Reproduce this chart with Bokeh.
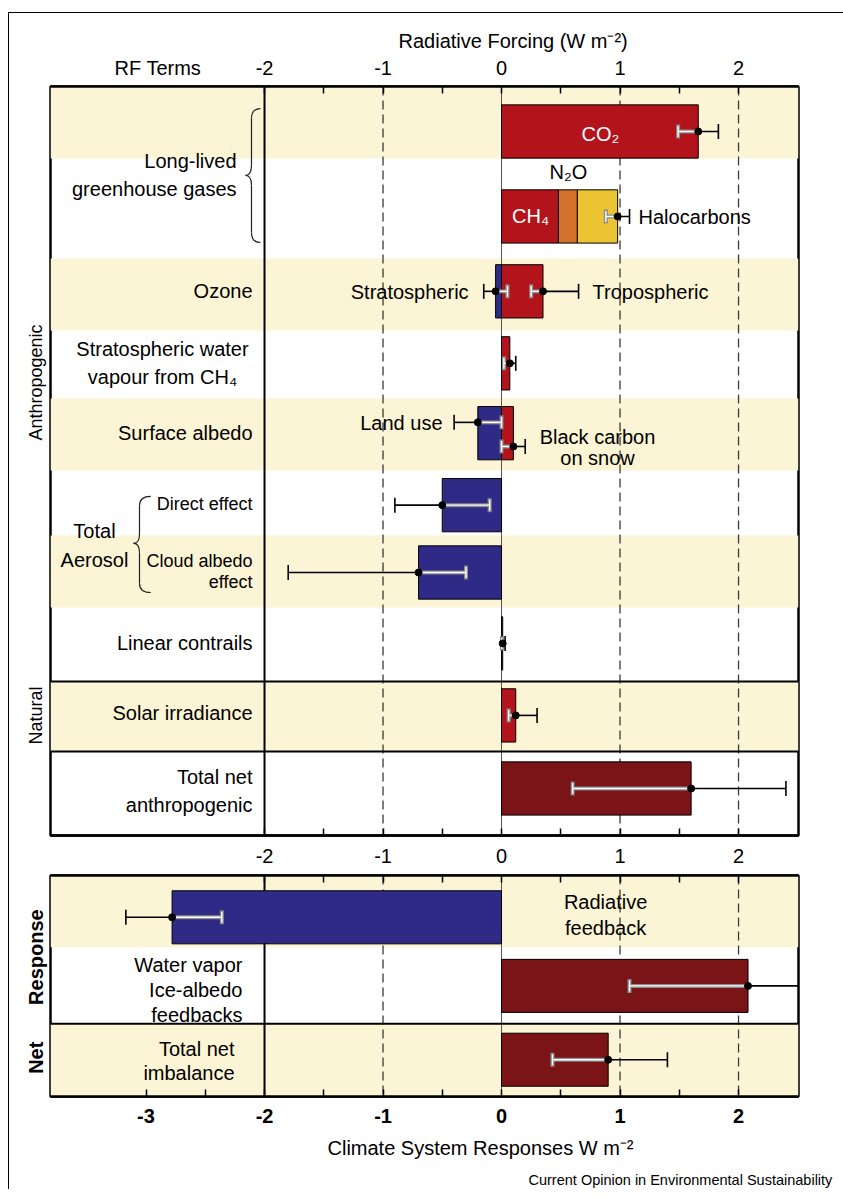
import math
from bokeh.plotting import figure
from bokeh.models import (Range1d, FixedTicker, Span, Whisker, TeeHead, Title,
                          ColumnDataSource, LinearAxis)
from bokeh.layouts import column
from bokeh.core.properties import value
from bokeh.embed import file_html
from bokeh.resources import INLINE

FONT = "Liberation Sans"

# ---------------- data (W m-2) ----------------
RF_TERMS = ["CO₂", "CH₄", "N₂O", "Halocarbons", "Stratospheric ozone", "Tropospheric ozone",
            "Stratospheric water vapour from CH₄", "Land use", "Black carbon on snow",
            "Direct effect", "Cloud albedo effect", "Linear contrails",
            "Solar irradiance", "Total net anthropogenic"]
RF_VALUE = [1.66, 0.48, 0.16, 0.34, -0.05, 0.35, 0.07, -0.20, 0.10, -0.50, -0.70, 0.01, 0.12, 1.60]
RF_ROW = [0, 1, 1, 1, 2, 2, 3, 4, 4, 5, 6, 7, 8, 9]

RF_ERR_BEST = [1.66, 0.98, -0.05, 0.35, 0.07, -0.20, 0.10, -0.50, -0.70, 0.01, 0.12, 1.60]
RF_ERR_LOW = [1.49, 0.88, -0.15, 0.25, 0.02, -0.40, 0.00, -0.90, -1.80, 0.003, 0.06, 0.60]
RF_ERR_HIGH = [1.83, 1.08, 0.05, 0.65, 0.12, 0.00, 0.20, -0.10, -0.30, 0.03, 0.30, 2.40]

RF_LABELS = ["Long-lived\ngreenhouse gases", "Ozone", "Stratospheric water\nvapour from CH₄",
             "Surface albedo", "Total\nAerosol", "Direct effect", "Cloud albedo\neffect",
             "Linear contrails", "Solar irradiance", "Total net\nanthropogenic"]
RF_NOTES = ["CO₂", "CH₄", "N₂O", "Halocarbons", "Stratospheric", "Tropospheric",
            "Land use", "Black carbon\non snow"]
GROUPS = ["Anthropogenic", "Natural"]

RESP_TERMS = ["Radiative\nfeedback", "Water vapor\nIce-albedo\nfeedbacks", "Total net\nimbalance"]
RESP_VALUE = [-2.78, 2.08, 0.90]
RESP_LOW = [-3.17, 1.08, 0.43]
RESP_HIGH = [-2.36, 2.88, 1.40]
RESP_GROUPS = ["Response", "Net"]

TOP_TICKS = [-2, -1, 0, 1, 2]
TOP_MINOR = [-1.5, -0.5, 0.5, 1.5]
TOP_LABELS = ["-2", "-1", "0", "1", "2"]
BOT_TICKS = [-3, -2, -1, 0, 1, 2]
BOT_MINOR = [-2.5, -1.5, -0.5, 0.5, 1.5]
BOT_LABELS = ["-3", "-2", "-1", "0", "1", "2"]
HEAD_LABEL = "RF Terms"
TITLE_TOP = "Radiative Forcing  (W m⁻²)"
TITLE_BOT = "Climate System Responses W m⁻²"
SOURCE = "Current Opinion in Environmental Sustainability"

# ---------------- layout / style ----------------
RED, ORANGE, YELLOW = "#B3141C", "#D4722B", "#EBC434"
BLUE, DARK, CREAM = "#2F2A85", "#7B1417", "#FBF4D5"
RF_COLOR = [RED, RED, ORANGE, YELLOW, BLUE, RED, RED, BLUE, RED, BLUE, BLUE, RED, RED, DARK]
RESP_COLOR = [BLUE, DARK, DARK]

XR = (-3.806, 2.506)
HEAD_X = -2.9
RF_ROW_Y = [0.0, 1.18, 2.22, 3.22, 4.19, 5.19, 6.125, 7.11, 8.11, 9.125]
RF_ERR_Y = [0.0, 1.18, 2.22, 2.22, 3.22, 4.04, 4.375, 5.19, 6.125, 7.11, 8.11, 9.125]
RF_BANDS = [(-0.625, 0.375), (1.764, 2.764), (3.708, 4.708), (5.611, 6.611), (7.639, 8.611)]
RF_SEPS = [7.639, 8.611]
GROUP_Y = [3.486, 8.111]
RESP_Y = [0.583, 1.54, 2.57]
RESP_BANDS = [(0.0, 1.0), (2.069, 3.083)]
RESP_SEPS = [2.069]
RESP_GROUP_Y = [1.139, 2.542]
BAR_H = 0.74


def base_fig(height, yr, top, bottom):
    f = figure(width=834, height=height, x_range=Range1d(*XR), y_range=Range1d(*yr),
               x_axis_location="above", y_axis_location=None, toolbar_location=None,
               output_backend="svg", min_border_left=41, min_border_right=45,
               min_border_top=top, min_border_bottom=bottom)
    f.grid.visible = False
    f.outline_line_color = "black"
    f.outline_line_width = 2.5
    f.background_fill_color = "white"
    f.border_fill_color = "white"
    return f


def axis(ax, ticks, minor, labels=None, standoff=0, size="20px", bold=False,
         orientation="horizontal", marks=True):
    ax.ticker = FixedTicker(ticks=ticks, minor_ticks=minor)
    if marks:
        ax.major_tick_in = 7
        ax.minor_tick_in = 7
        ax.major_tick_line_width = 1.5
        ax.minor_tick_line_width = 1.5
        ax.axis_line_width = 2.5
    else:
        ax.major_tick_in = 0
        ax.minor_tick_in = 0
        ax.major_tick_line_color = None
        ax.minor_tick_line_color = None
        ax.axis_line_color = None
    ax.major_tick_out = 0
    ax.minor_tick_out = 0
    if labels is None:
        ax.major_label_text_color = None
        ax.major_label_standoff = 0
    else:
        ax.major_label_overrides = {t: s for t, s in zip(ticks, labels)}
        ax.major_label_text_font = FONT
        ax.major_label_text_font_size = size
        ax.major_label_text_color = "black"
        ax.major_label_text_font_style = "bold" if bold else "normal"
        ax.major_label_standoff = standoff
        ax.major_label_orientation = orientation


def verticals(f):
    f.add_layout(Span(location=-2, dimension="height", line_color="black", line_width=2, level="underlay"))
    f.add_layout(Span(location=0, dimension="height", line_color="#555555", line_width=1, level="underlay"))
    for xv in (-1, 1, 2):
        f.add_layout(Span(location=xv, dimension="height", line_color="#3a3a3a", line_width=1.3,
                          line_dash="9 5", level="underlay"))


def bands(f, spans):
    f.quad(left=XR[0], right=XR[1], top=[b[0] for b in spans], bottom=[b[1] for b in spans],
           fill_color=CREAM, line_color=None, level="image")


def add_errors(f, ys, best, low, high):
    groups = {("w", "lo"): [], ("w", "hi"): [], ("k", "lo"): [], ("k", "hi"): []}
    for y, b, lo, hi in zip(ys, best, low, high):
        if b >= 0:
            groups[("w", "lo")].append((y, lo, b))
            groups[("k", "hi")].append((y, b, hi))
        else:
            groups[("k", "lo")].append((y, lo, b))
            groups[("w", "hi")].append((y, b, hi))
    for (kind, side), rows in groups.items():
        if not rows:
            continue
        src = ColumnDataSource(dict(y=[r[0] for r in rows], lo=[r[1] for r in rows],
                                    hi=[r[2] for r in rows]))
        layers = [("#8a8a8a", 4.0, 14), ("white", 1.4, 11)] if kind == "w" else [("black", 1.6, 15)]
        for color, lw, size in layers:
            head = TeeHead(size=size, line_color=color, line_width=lw)
            f.add_layout(Whisker(source=src, base="y", lower="lo", upper="hi", dimension="width",
                                 line_color=color, line_width=lw, level="glyph",
                                 lower_head=head if side == "lo" else None,
                                 upper_head=head if side == "hi" else None))
    f.scatter(best, ys, size=7, color="black", level="annotation")


def txt(f, x, y, s, align="right", size=20, lh=1.2, color="black"):
    f.text(x=[x], y=[y], text=[s], text_font=value(FONT), text_font_size=f"{size}px",
           text_align=align, text_baseline="middle", text_line_height=lh, text_color=color)


def title(f, s, place, offset, size=20, standoff=3):
    f.add_layout(Title(text=s, align="left", offset=offset, text_font=FONT,
                       text_font_size=f"{size}px", text_font_style="normal",
                       text_color="black", standoff=standoff), place)


def brace(f, x_tip, x_body, x_end, y_top, y_mid, y_bot, r):
    f.quadratic(x0=[x_end, x_body, x_tip, x_body], y0=[y_top, y_mid - r, y_mid, y_bot - r],
                x1=[x_body, x_tip, x_body, x_end], y1=[y_top + r, y_mid, y_mid + r, y_bot],
                cx=[x_body, x_body, x_body, x_body], cy=[y_top, y_mid, y_mid, y_bot],
                line_color="#222222", line_width=1.2)
    f.segment(x0=[x_body, x_body], y0=[y_top + r, y_mid + r], x1=[x_body, x_body],
              y1=[y_mid - r, y_bot - r], line_color="#222222", line_width=1.2)


# ================= top panel: RF terms =================
f1 = base_fig(857, (9.778, -0.625), 73, 35)
axis(f1.xaxis[0], TOP_TICKS, TOP_MINOR)
ax_top_lbl = LinearAxis()
axis(ax_top_lbl, [HEAD_X] + TOP_TICKS, [], [HEAD_LABEL] + TOP_LABELS, standoff=8, marks=False)
f1.add_layout(ax_top_lbl, "above")
title(f1, TITLE_TOP, "above", 348, standoff=3)

ax_b = LinearAxis()
axis(ax_b, TOP_TICKS, TOP_MINOR, TOP_LABELS, standoff=13)
f1.add_layout(ax_b, "below")

ax_grp = LinearAxis()
axis(ax_grp, GROUP_Y, [], GROUPS, standoff=4, size="18px", orientation="parallel", marks=False)
f1.add_layout(ax_grp, "left")

bands(f1, RF_BANDS)
verticals(f1)
for s in RF_SEPS:
    f1.add_layout(Span(location=s, dimension="width", line_color="black", line_width=2))

lefts, rights, ys = [], [], []
acc = {}
for v, r in zip(RF_VALUE, RF_ROW):
    key = (r, v >= 0)
    b0 = acc.get(key, 0.0)
    lefts.append(b0)
    rights.append(b0 + v)
    acc[key] = b0 + v
    ys.append(RF_ROW_Y[r])
f1.hbar(y=ys, left=lefts, right=rights, height=BAR_H, fill_color=RF_COLOR,
        line_color="black", line_width=1)
add_errors(f1, RF_ERR_Y, RF_ERR_BEST, RF_ERR_LOW, RF_ERR_HIGH)

LBL_X = [-2.236, -2.101, -2.861, -2.101, -3.435, -2.101, -2.101, -2.101, -2.101, -2.101]
LBL_Y = [0.604, 2.222, 3.215, 4.181, 5.75, 5.167, 6.118, 7.111, 8.083, 9.16]
LBL_A = ["right", "right", "center", "right", "center", "right", "right", "right", "right", "right"]
LBL_S = [20, 20, 20, 20, 20, 18, 18, 20, 20, 20]
LBL_LH = [1.25, 1.2, 1.25, 1.2, 1.3, 1.2, 1.05, 1.2, 1.2, 1.25]
for s, x, y, a, sz, lh in zip(RF_LABELS, LBL_X, LBL_Y, LBL_A, LBL_S, LBL_LH):
    txt(f1, x, y, s, align=a, size=sz, lh=lh)

NOTE_POS = [(0.835, 0.03, "center", "white", 1.2), (0.245, 1.18, "center", "white", 1.2),
            (0.565, 0.569, "center", "black", 1.2), (1.156, 1.19, "left", "black", 1.2),
            (-0.278, 2.236, "right", "black", 1.2), (0.768, 2.236, "left", "black", 1.2),
            (-0.498, 4.042, "right", "black", 1.2), (0.81, 4.389, "center", "black", 0.95)]
for s, (x, y, a, c, lh) in zip(RF_NOTES, NOTE_POS):
    txt(f1, x, y, s, align=a, color=c, lh=lh)

brace(f1, -2.16, -2.11, -2.034, -0.319, 0.61, 1.542, 0.14)
brace(f1, -3.105, -3.055, -2.96, 5.069, 5.722, 6.403, 0.13)

# ================= bottom panel: responses =================
f2 = base_fig(319, (3.083, 0.0), 5, 92)
axis(f2.xaxis[0], TOP_TICKS, TOP_MINOR)
ax_b2 = LinearAxis()
axis(ax_b2, BOT_TICKS, BOT_MINOR, BOT_LABELS, standoff=12, bold=True)
f2.add_layout(ax_b2, "below")
title(f2, TITLE_BOT, "below", 277, standoff=18)
title(f2, SOURCE, "below", 478, size=14.5, standoff=4)

ax_grp2 = LinearAxis()
axis(ax_grp2, RESP_GROUP_Y, [], RESP_GROUPS, standoff=3, bold=True, orientation="parallel", marks=False)
f2.add_layout(ax_grp2, "left")

bands(f2, RESP_BANDS)
verticals(f2)
for s in RESP_SEPS:
    f2.add_layout(Span(location=s, dimension="width", line_color="black", line_width=2))

f2.hbar(y=RESP_Y, left=0, right=RESP_VALUE, height=BAR_H, fill_color=RESP_COLOR,
        line_color="black", line_width=1)
add_errors(f2, RESP_Y, RESP_VALUE, RESP_LOW, RESP_HIGH)

RESP_LBL = [(0.878, 0.549, "center", 1.15), (-2.186, 1.597, "right", 1.15), (-2.253, 2.583, "right", 1.1)]
for s, (x, y, a, lh) in zip(RESP_TERMS, RESP_LBL):
    txt(f2, x, y, s, align=a, lh=lh)

layout = column(f1, f2, styles={"border-left": "1px solid #000", "border-top": "1px solid #000",
                                "margin": "12px 0 0 8px"})
open("out.html", "w").write(file_html(layout, INLINE))
